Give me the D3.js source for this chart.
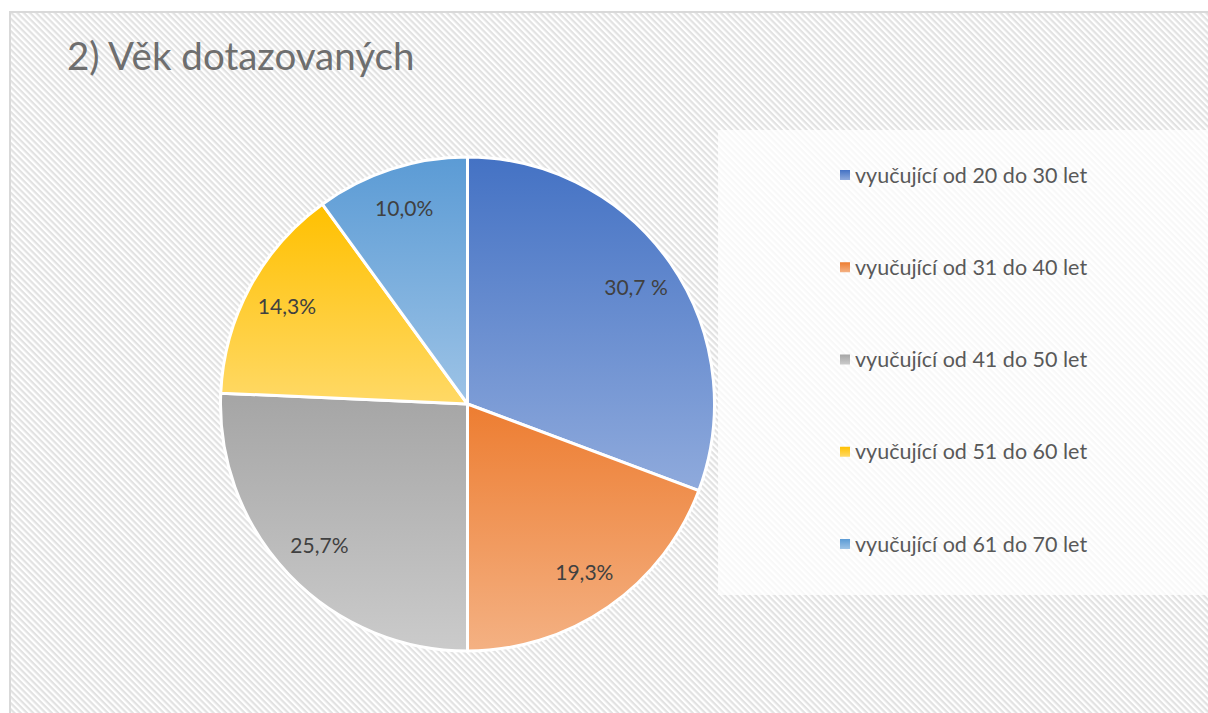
<!DOCTYPE html>
<html>
<head>
<meta charset="utf-8">
<script src="https://cdn.jsdelivr.net/npm/d3@7"></script>
<style>
  body { margin: 0; background: #fff; }
  svg { display: block; font-family: Lato, "Open Sans", sans-serif; }
</style>
</head>
<body>
<div id="chart"></div>
<script>

  var categories = ["vyučující od 20 do 30 let", "vyučující od 31 do 40 let", "vyučující od 41 do 50 let",
                    "vyučující od 51 do 60 let", "vyučující od 61 do 70 let"];
  var values = [30.7, 19.3, 25.7, 14.3, 10.0];
  var valueLabels = ["30,7 %", "19,3%", "25,7%", "14,3%", "10,0%"];
  var title = "2) Věk dotazovaných";

  // gradient top / bottom colours per slice
  var topColors = ["#4472c4", "#ed7d31", "#a5a5a5", "#ffc000", "#5b9bd5"];
  var bottomColors = ["#8faadc", "#f4b183", "#cbcbcb", "#ffd966", "#9dc3e6"];

  var width = 1208, height = 713;
  var cx = 467.5, cy = 404, radius = 247;

  var svg = d3.select("#chart")
              .append("svg")
              .attr("width", width)
              .attr("height", height);

  var defs = svg.append("defs");

  // diagonal hatch background
  var pat = defs.append("pattern")
      .attr("id", "hatch")
      .attr("patternUnits", "userSpaceOnUse")
      .attr("width", 4.4).attr("height", 4.4)
      .attr("patternTransform", "rotate(45)");
  pat.append("rect").attr("width", 4.4).attr("height", 4.4).attr("fill", "#ffffff");
  pat.append("rect").attr("width", 4.4).attr("height", 2.2).attr("fill", "#e2e2e2");

  topColors.forEach(function(c, i) {
    var g = defs.append("linearGradient")
        .attr("id", "grad" + i)
        .attr("x1", 0).attr("y1", 0).attr("x2", 0).attr("y2", 1);
    g.append("stop").attr("offset", "0%").attr("stop-color", c);
    g.append("stop").attr("offset", "100%").attr("stop-color", bottomColors[i]);
  });

  // chart area
  svg.append("rect")
     .attr("x", 10).attr("y", 12)
     .attr("width", width).attr("height", height)
     .attr("fill", "url(#hatch)")
     .attr("stroke", "#d9d9d9")
     .attr("stroke-width", 2);

  svg.append("text")
     .attr("x", 67).attr("y", 70)
     .attr("font-size", 38.5)
     .attr("fill", "#6e6e6e")
     .text(title);

  // pie
  var pie = d3.pie().sort(null).value(function(d) { return d; });
  var arcs = pie(values);

  var arc = d3.arc().innerRadius(0).outerRadius(radius);
  var labelArc = d3.arc().innerRadius(radius * 0.66).outerRadius(radius);

  var pieG = svg.append("g")
                .attr("transform", "translate(" + cx + "," + cy + ")");

  pieG.selectAll("path")
      .data(arcs)
      .enter()
      .append("path")
      .attr("d", arc)
      .attr("fill", function(d, i) { return "url(#grad" + i + ")"; })
      .attr("stroke", "#ffffff")
      .attr("stroke-width", 3)
      .attr("stroke-linejoin", "round");

  pieG.selectAll("text.lbl")
      .data(arcs)
      .enter()
      .append("text")
      .attr("class", "lbl")
      .attr("transform", function(d) { return "translate(" + labelArc.centroid(d) + ")"; })
      .attr("text-anchor", "middle")
      .attr("dy", "0.35em")
      .attr("font-size", 21)
      .attr("fill", "#404040")
      .text(function(d, i) { return valueLabels[i]; });

  // legend
  svg.append("rect")
     .attr("x", 718).attr("y", 130)
     .attr("width", width - 718).attr("height", 465)
     .attr("fill", "#ffffff")
     .attr("opacity", 0.75);

  var legendY = d3.scalePoint()
                  .domain(categories)
                  .range([175, 544]);

  var leg = svg.selectAll("g.leg")
               .data(categories)
               .enter()
               .append("g")
               .attr("class", "leg")
               .attr("transform", function(d) { return "translate(840," + legendY(d) + ")"; });

  leg.append("rect")
     .attr("x", 0).attr("y", -5)
     .attr("width", 10).attr("height", 10)
     .attr("fill", function(d, i) { return "url(#grad" + i + ")"; });

  leg.append("text")
     .attr("x", 15)
     .attr("dy", "0.35em")
     .attr("font-size", 21.5)
     .attr("fill", "#595959")
     .text(function(d) { return d; });

</script>
</body>
</html>
